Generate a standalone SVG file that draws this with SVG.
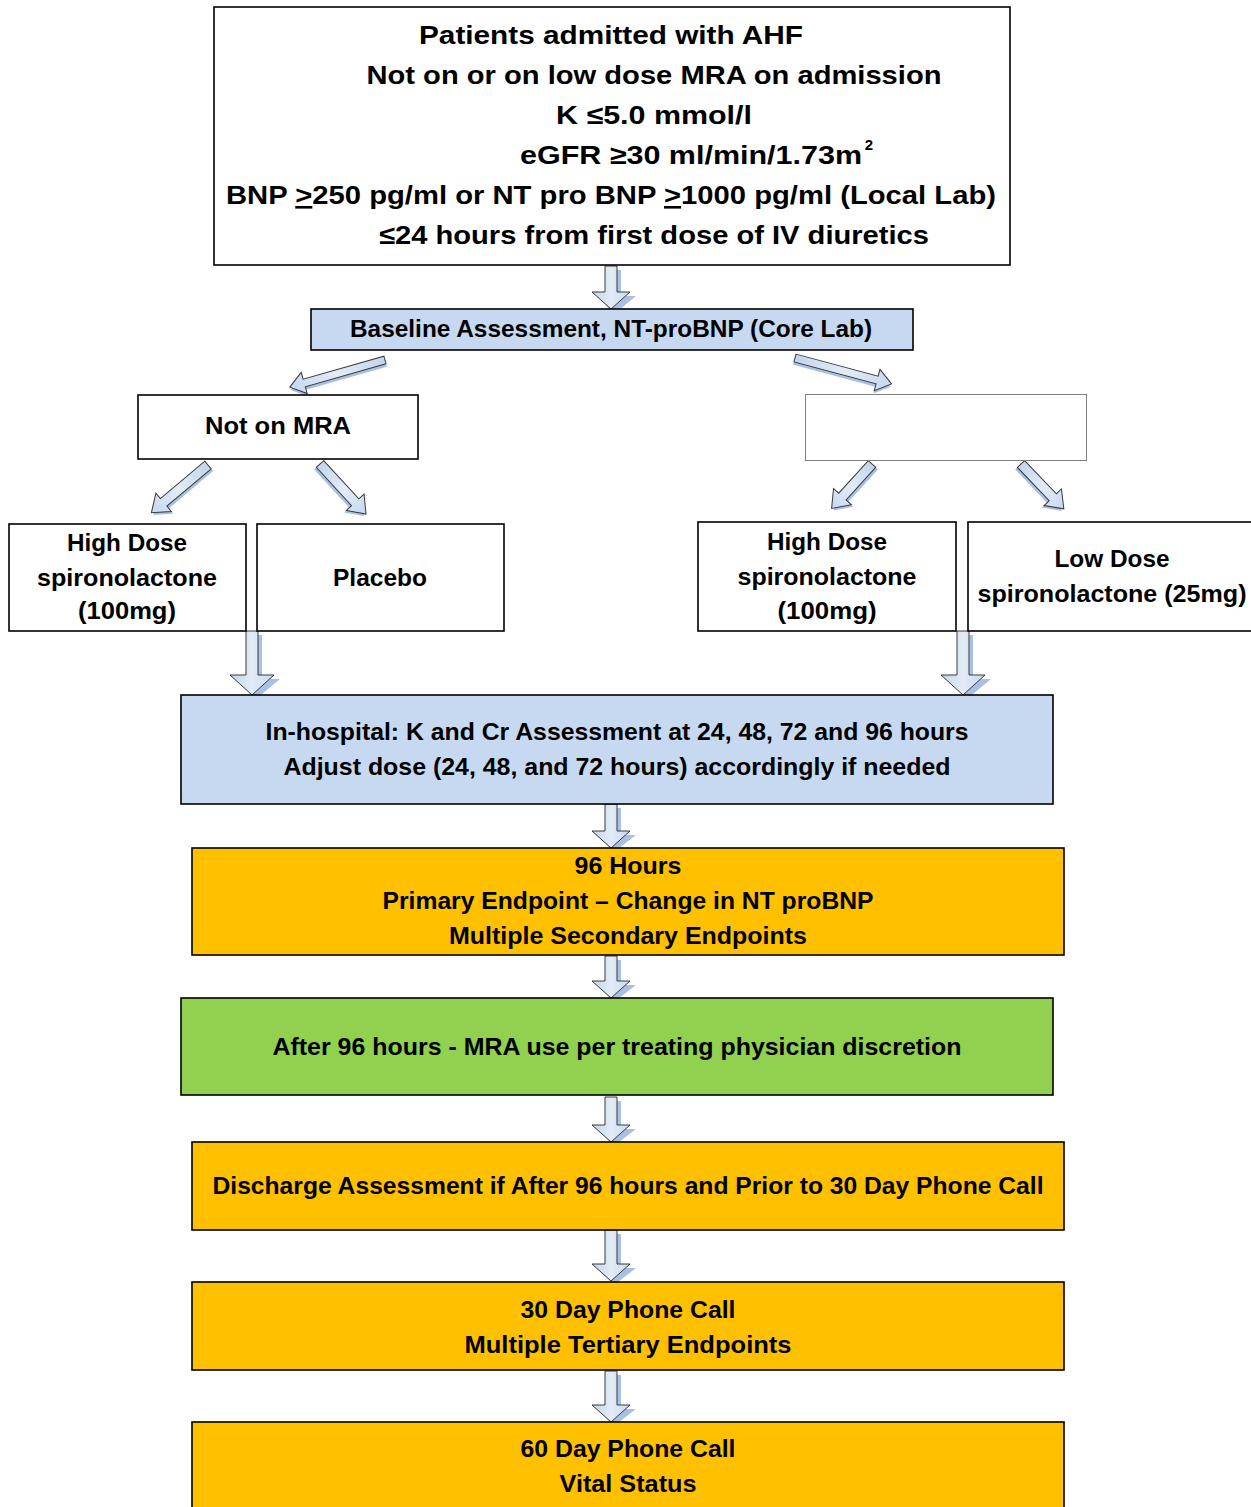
<svg xmlns="http://www.w3.org/2000/svg" width="1251" height="1507" viewBox="0 0 1251 1507">
<style>
.box{stroke:#000;stroke-width:1.6}
.w{fill:#fff}
.b{fill:#c6d9f1}
.o{fill:#ffc000}
.g{fill:#92d050}
.e{fill:#fff;stroke:#808080;stroke-width:1}
text{font-family:"Liberation Sans",Arial,sans-serif;font-weight:bold;fill:#000;text-anchor:middle}
.t1{font-size:26px}
.t2{font-size:24px}
.arr{fill:url(#ag);stroke:#3a3a3a;stroke-width:1}
.sh{fill:#8eaadb;opacity:0.75}
</style>
<defs>
<linearGradient id="ag" x1="0" y1="0" x2="1" y2="0">
<stop offset="0" stop-color="#c3d5ec"/>
<stop offset="0.5" stop-color="#e3ebf6"/>
<stop offset="1" stop-color="#c6d9f1"/>
</linearGradient>
<linearGradient id="agd" x1="0" y1="0" x2="0" y2="1">
<stop offset="0" stop-color="#c3d5ec"/>
<stop offset="0.5" stop-color="#e3ebf6"/>
<stop offset="1" stop-color="#c6d9f1"/>
</linearGradient>
</defs>

<g id="connectors">
<!-- vertical block arrows -->
<g>
<path class="sh" d="M609 270 H621 V296 H636 L614 314 L597 296 H609 Z"/>
<path class="arr" d="M605 266 H617 V292 H630 L611 309 L592 292 H605 Z"/>
</g>
<g>
<path class="sh" d="M250 635 H262 V679 H280 L256 699 L235 679 H250 Z"/>
<path class="arr" d="M246 631 H258 V675 H274 L252 695 L230 675 H246 Z"/>
</g>
<g>
<path class="sh" d="M961 635 H973 V679 H991 L967 699 L946 679 H961 Z"/>
<path class="arr" d="M957 631 H969 V675 H985 L963 695 L941 675 H957 Z"/>
</g>
<g>
<path class="sh" d="M609 808 H621 V835 H636 L614 852 L597 835 H609 Z"/>
<path class="arr" d="M605 804 H617 V831 H630 L611 848 L592 831 H605 Z"/>
</g>
<g>
<path class="sh" d="M609 960 H621 V985 H636 L614 1002 L597 985 H609 Z"/>
<path class="arr" d="M605 956 H617 V981 H630 L611 998 L592 981 H605 Z"/>
</g>
<g>
<path class="sh" d="M609 1101 H621 V1129 H636 L614 1146 L597 1129 H609 Z"/>
<path class="arr" d="M605 1097 H617 V1125 H630 L611 1142 L592 1125 H605 Z"/>
</g>
<g>
<path class="sh" d="M609 1234 H621 V1268 H636 L614 1285 L597 1268 H609 Z"/>
<path class="arr" d="M605 1230 H617 V1264 H630 L611 1281 L592 1264 H605 Z"/>
</g>
<g>
<path class="sh" d="M609 1375 H621 V1409 H636 L614 1426 L597 1409 H609 Z"/>
<path class="arr" d="M605 1371 H617 V1405 H630 L611 1422 L592 1405 H605 Z"/>
</g>
<!-- diagonal block arrows -->
<g transform="translate(385,360) rotate(164.1)">
<path class="sh" transform="translate(0,-3)" d="M0 -4 H84 V-11 L99 0 L84 11 V4 H0 Z"/>
<path class="arr" d="M0 -4 H84 V-11 L99 0 L84 11 V4 H0 Z"/>
</g>
<g transform="translate(795,358) rotate(15)">
<path class="sh" transform="translate(0,3)" d="M0 -4 H85 V-11 L100 0 L85 11 V4 H0 Z"/>
<path class="arr" d="M0 -4 H85 V-11 L100 0 L85 11 V4 H0 Z"/>
</g>
<g transform="translate(208,465) rotate(139.9)">
<path class="sh" transform="translate(0,-3)" d="M0 -5 H58 V-12 L74 0 L58 12 V5 H0 Z"/>
<path class="arr" d="M0 -5 H58 V-12 L74 0 L58 12 V5 H0 Z"/>
</g>
<g transform="translate(320,464) rotate(47.4)">
<path class="sh" transform="translate(0,3)" d="M0 -5 H52 V-12 L68 0 L52 12 V5 H0 Z"/>
<path class="arr" d="M0 -5 H52 V-12 L68 0 L52 12 V5 H0 Z"/>
</g>
<g transform="translate(872,464) rotate(132.3)">
<path class="sh" transform="translate(0,-3)" d="M0 -5 H44 V-12 L60 0 L44 12 V5 H0 Z"/>
<path class="arr" d="M0 -5 H44 V-12 L60 0 L44 12 V5 H0 Z"/>
</g>
<g transform="translate(1021,464) rotate(46.3)">
<path class="sh" transform="translate(0,3)" d="M0 -5 H46 V-12 L62 0 L46 12 V5 H0 Z"/>
<path class="arr" d="M0 -5 H46 V-12 L62 0 L46 12 V5 H0 Z"/>
</g>
</g>

<g id="n-inclusion">
<rect class="box w" x="214" y="7" width="796" height="258"/>
<text class="t1" x="611" y="44" textLength="384" lengthAdjust="spacingAndGlyphs">Patients admitted with AHF</text>
<text class="t1" x="654" y="84" textLength="575" lengthAdjust="spacingAndGlyphs">Not on or on low dose MRA on admission</text>
<text class="t1" x="654" y="124" textLength="196" lengthAdjust="spacingAndGlyphs">K ≤5.0 mmol/l</text>
<text class="t1" x="691" y="164" textLength="342" lengthAdjust="spacingAndGlyphs">eGFR ≥30 ml/min/1.73m</text>
<text style="font-size:15px" x="869" y="150">2</text>
<text class="t1" x="611" y="204" textLength="770" lengthAdjust="spacingAndGlyphs">BNP <tspan text-decoration="underline">&gt;</tspan>250 pg/ml or NT pro BNP <tspan text-decoration="underline">&gt;</tspan>1000 pg/ml (Local Lab)</text>
<text class="t1" x="654" y="244" textLength="550" lengthAdjust="spacingAndGlyphs">≤24 hours from first dose of IV diuretics</text>
</g>

<g id="n-baseline">
<rect class="box b" x="311" y="309" width="602" height="41"/>
<text class="t2" x="611" y="337" textLength="522" lengthAdjust="spacingAndGlyphs">Baseline Assessment, NT-proBNP (Core Lab)</text>
</g>

<g id="n-notmra">
<rect class="box w" x="138" y="395" width="280" height="64"/>
<text class="t2" x="278" y="434" textLength="146" lengthAdjust="spacingAndGlyphs">Not on MRA</text>
</g>

<g id="n-empty">
<rect class="e" x="805.5" y="394.5" width="281" height="66"/>
</g>

<g id="n-high-left">
<rect class="box w" x="9" y="524" width="237" height="107"/>
<text class="t2" x="127" y="551" textLength="120" lengthAdjust="spacingAndGlyphs">High Dose</text>
<text class="t2" x="127" y="586" textLength="180" lengthAdjust="spacingAndGlyphs">spironolactone</text>
<text class="t2" x="127" y="619" textLength="98" lengthAdjust="spacingAndGlyphs">(100mg)</text>
</g>

<g id="n-placebo">
<rect class="box w" x="257" y="524" width="247" height="107"/>
<text class="t2" x="380" y="586" textLength="94" lengthAdjust="spacingAndGlyphs">Placebo</text>
</g>

<g id="n-high-right">
<rect class="box w" x="698" y="522" width="258" height="109"/>
<text class="t2" x="827" y="550" textLength="120" lengthAdjust="spacingAndGlyphs">High Dose</text>
<text class="t2" x="827" y="585" textLength="179" lengthAdjust="spacingAndGlyphs">spironolactone</text>
<text class="t2" x="827" y="619" textLength="99" lengthAdjust="spacingAndGlyphs">(100mg)</text>
</g>

<g id="n-low-right">
<rect class="box w" x="968" y="522" width="290" height="109"/>
<text class="t2" x="1112" y="567" textLength="115" lengthAdjust="spacingAndGlyphs">Low Dose</text>
<text class="t2" x="1112" y="602" textLength="269" lengthAdjust="spacingAndGlyphs">spironolactone (25mg)</text>
</g>

<g id="n-inhospital">
<rect class="box b" x="181" y="695" width="872" height="109"/>
<text class="t2" x="617" y="740" textLength="703" lengthAdjust="spacingAndGlyphs">In-hospital: K and Cr Assessment at 24, 48, 72 and 96 hours</text>
<text class="t2" x="617" y="775" textLength="667" lengthAdjust="spacingAndGlyphs">Adjust dose (24, 48, and 72 hours) accordingly if needed</text>
</g>

<g id="n-96h">
<rect class="box o" x="192" y="848" width="872" height="107"/>
<text class="t2" x="628" y="874" textLength="107" lengthAdjust="spacingAndGlyphs">96 Hours</text>
<text class="t2" x="628" y="909" textLength="491" lengthAdjust="spacingAndGlyphs">Primary Endpoint – Change in NT proBNP</text>
<text class="t2" x="628" y="944" textLength="358" lengthAdjust="spacingAndGlyphs">Multiple Secondary Endpoints</text>
</g>

<g id="n-after96">
<rect class="box g" x="181" y="998" width="872" height="97"/>
<text class="t2" x="617" y="1055" textLength="689" lengthAdjust="spacingAndGlyphs">After 96 hours - MRA use per treating physician discretion</text>
</g>

<g id="n-discharge">
<rect class="box o" x="192" y="1142" width="872" height="88"/>
<text class="t2" x="628" y="1194" textLength="831" lengthAdjust="spacingAndGlyphs">Discharge Assessment if After 96 hours and Prior to 30 Day Phone Call</text>
</g>

<g id="n-30day">
<rect class="box o" x="192" y="1282" width="872" height="88"/>
<text class="t2" x="628" y="1318" textLength="215" lengthAdjust="spacingAndGlyphs">30 Day Phone Call</text>
<text class="t2" x="628" y="1353" textLength="327" lengthAdjust="spacingAndGlyphs">Multiple Tertiary Endpoints</text>
</g>

<g id="n-60day">
<rect class="box o" x="192" y="1422" width="872" height="100"/>
<text class="t2" x="628" y="1457" textLength="215" lengthAdjust="spacingAndGlyphs">60 Day Phone Call</text>
<text class="t2" x="628" y="1492" textLength="137" lengthAdjust="spacingAndGlyphs">Vital Status</text>
</g>
</svg>
